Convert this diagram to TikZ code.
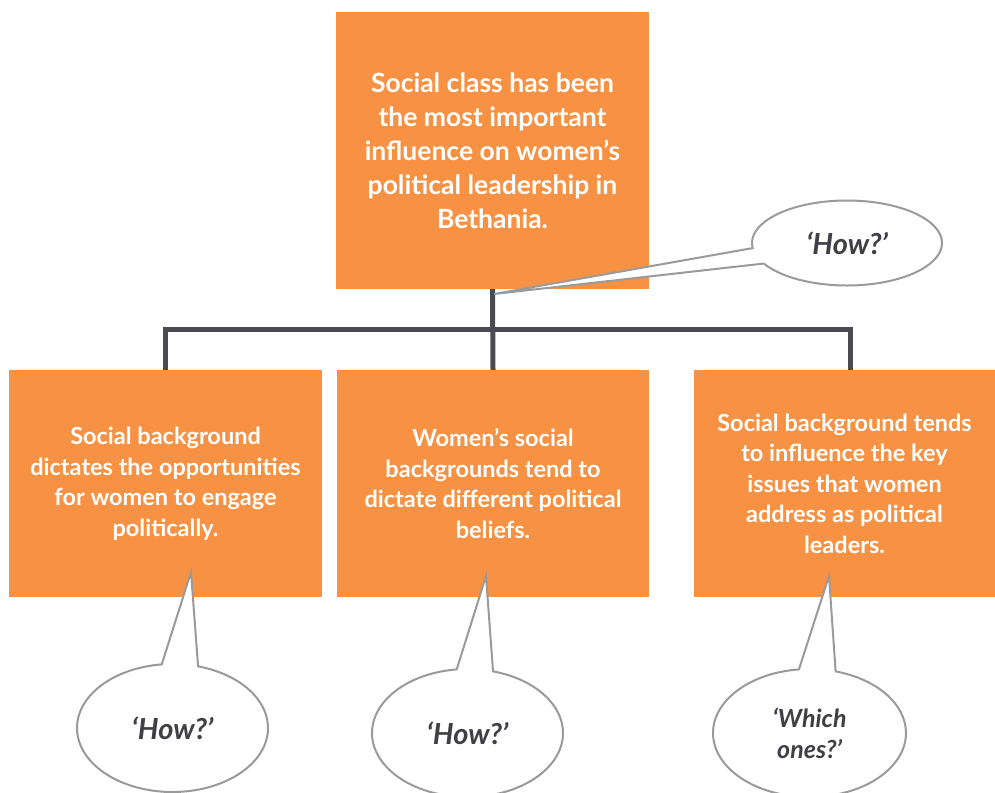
\documentclass[tikz,border=0pt]{standalone}
\usepackage{fontspec}
\setmainfont{Lato}
\usepackage{xcolor}
\definecolor{boxorange}{HTML}{F79143}
\definecolor{bargray}{HTML}{4A4A50}
\definecolor{rimgray}{HTML}{9A9A9A}
\definecolor{askgray}{HTML}{3F3F46}
\usetikzlibrary{positioning,calc,shapes.callouts}

\begin{document}
\begin{tikzpicture}[x=1pt,y=-1pt,
    claim/.style={fill=boxorange,text=white,align=center,inner sep=0pt,
      font=\bfseries\fontsize{26.5}{34}\selectfont},
    reason/.style={claim,minimum height=227pt,
      font=\bfseries\fontsize{23.5}{30.5}\selectfont},
    link/.style={draw=bargray,line width=5pt},
    ask/.style={ellipse callout,draw=rimgray,line width=2pt,fill=white,
      text=askgray,align=center,inner sep=0pt,callout pointer arc=22,
      font=\bfseries\itshape\fontsize{29}{31}\selectfont}]
    \useasboundingbox (0,0) rectangle (995,792);

    \node[claim,minimum width=313pt,minimum height=277pt] (top) at (492.5,150.5)
      {Social class has been\\the most important\\influence on women’s\\political leadership in\\Bethania.};
    \node[reason,minimum width=313pt] (lbox) at (165.5,483.5)
      {Social background\\dictates the opportunities\\for women to engage\\politically.};
    \node[reason,minimum width=312pt] (mbox) at (493,483.5)
      {Women’s social\\backgrounds tend to\\dictate different political\\beliefs.};
    \node[reason,minimum width=301pt] (rbox) at (844.5,483.5)
      {Social background tends\\to influence the key\\issues that women\\address as political\\leaders.};

    \coordinate (fork) at (492.5,329);
    \coordinate (rdrop) at (850,370);
    \draw[link] (top.south) -- (mbox.north);
    \draw[link] (lbox.north) |- (fork) -| (rdrop);

    \coordinate (tipT) at (494,294);
    \coordinate (tipL) at (191,572);
    \coordinate (tipM) at (486,576);
    \coordinate (tipR) at (829,576);
    \node[ask,minimum width=190pt,minimum height=85pt,callout absolute pointer={(tipT)}] (askT) at (847,243) {‘How?’};
    \node[ask,minimum width=191pt,minimum height=128pt,callout absolute pointer={(tipL)}] (askL) at (172.5,728) {‘How?’};
    \node[ask,minimum width=191pt,minimum height=128pt,callout absolute pointer={(tipM)}] (askM) at (467.5,733) {‘How?’};
    \node[ask,minimum width=193pt,minimum height=128pt,callout absolute pointer={(tipR)},
      font=\bfseries\itshape\fontsize{25}{31}\selectfont] (askR) at (809.5,733) {‘Which\\ones?’};
\end{tikzpicture}
\end{document}
